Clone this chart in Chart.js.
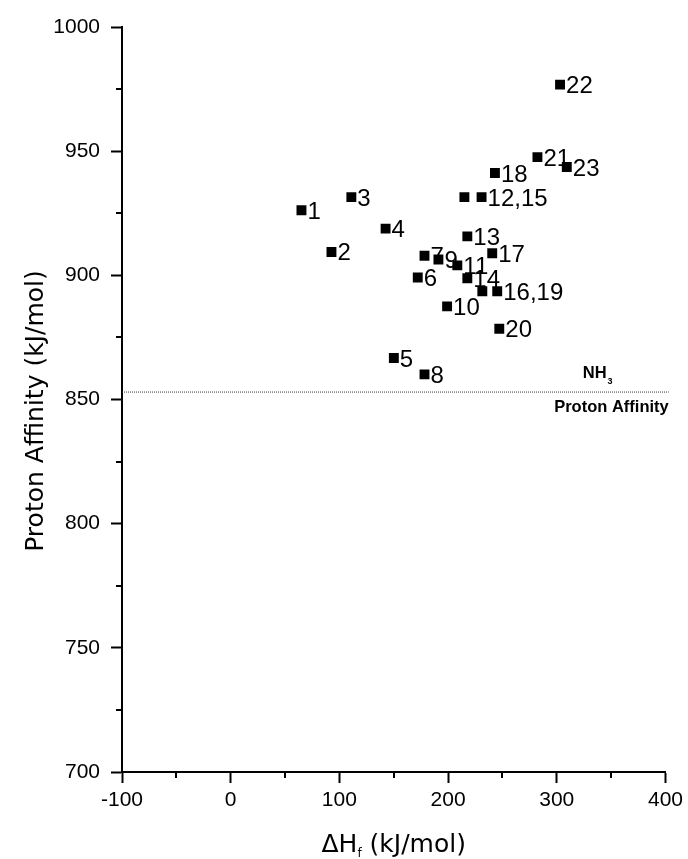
<!DOCTYPE html>
<html><head><meta charset="utf-8">
<script src="https://cdn.jsdelivr.net/npm/chart.js@4.4.0/dist/chart.umd.min.js"></script>
<style>html,body{margin:0;padding:0;background:#fff}canvas{display:block}</style>
</head><body>
<canvas id="c" width="688" height="859"></canvas>
<script>
// ---- data ----
const heatOfFormation = [65.1, 92.7, 111.0, 142.5, 150.1, 172.1, 178.3, 178.3, 191.1, 199.1, 208.5, 215.0, 217.7, 217.7, 230.8, 231.5, 240.6, 243.1, 245.2, 247.1, 282.2, 303.0, 309.2];
const protonAffinity = [926.2, 909.4, 931.5, 918.8, 866.7, 899.1, 907.9, 860.1, 906.4, 887.5, 904.0, 931.5, 915.7, 898.8, 931.5, 893.6, 908.9, 941.2, 893.6, 878.5, 947.6, 976.8, 943.6];
const pointTags = ['1','2','3','4','5','6','7','8','9','10','11','','13','14','12,15','','17','18','16,19','20','21','22','23'];
const nh3ProtonAffinity = 853;
const nh3LineX = [-100, 403];
const xRange = [-100, 400];
const yRange = [700, 1000];
const xMajorStep = 100, xMinorStep = 50;
const yMajorStep = 50, yMinorStep = 25;
const xTitleMain = '\u0394H', xTitleSub = 'f', xTitleRest = ' (kJ/mol)';
const yTitle = 'Proton Affinity (kJ/mol)';
const refLabelTop = 'NH', refLabelSub = '3', refLabelBottom = 'Proton Affinity';

const TICK_FONT = '"Liberation Sans", Arial, sans-serif';
const TITLE_FONT = '"DejaVu Sans", sans-serif';

const points = heatOfFormation.map((x, i) => ({x, y: protonAffinity[i]}));
const refLine = nh3LineX.map(x => ({x, y: nh3ProtonAffinity}));

const isMajor = (v, step) => Math.abs(v / step - Math.round(v / step)) < 1e-6;

const bgPlugin = {
  id: 'bg',
  beforeDraw(chart) {
    const c = chart.ctx; c.save(); c.fillStyle = '#fff';
    c.fillRect(0, 0, chart.width, chart.height); c.restore();
  }
};

const minorTicks = {
  id: 'minorTicks',
  afterDraw(chart) {
    const c = chart.ctx; c.save();
    c.strokeStyle = '#000'; c.lineWidth = 2;
    const xs = chart.scales.x, ys = chart.scales.y;
    xs.ticks.forEach(t => {
      if (isMajor(t.value, xMajorStep)) return;
      const px = Math.round(xs.getPixelForValue(t.value));
      c.beginPath(); c.moveTo(px, xs.top); c.lineTo(px, xs.top + 6); c.stroke();
    });
    ys.ticks.forEach(t => {
      if (isMajor(t.value, yMajorStep)) return;
      const py = Math.round(ys.getPixelForValue(t.value));
      c.beginPath(); c.moveTo(ys.right, py); c.lineTo(ys.right - 6, py); c.stroke();
    });
    c.restore();
  }
};

const pointLabels = {
  id: 'pointLabels',
  afterDatasetsDraw(chart) {
    const meta = chart.getDatasetMeta(0);
    const c = chart.ctx; c.save();
    c.fillStyle = '#000'; c.font = '24px ' + TICK_FONT;
    c.textAlign = 'left'; c.textBaseline = 'alphabetic';
    meta.data.forEach((el, i) => {
      if (pointTags[i]) c.fillText(pointTags[i], el.x + 6, el.y + 8.5);
    });
    c.restore();
  }
};

const annotations = {
  id: 'annotations',
  afterDraw(chart) {
    const c = chart.ctx; const ca = chart.chartArea;
    const xs = chart.scales.x, ys = chart.scales.y;
    c.save(); c.fillStyle = '#000';
    // x title with subscript
    const main = '25px ' + TITLE_FONT, sub = '12px ' + TITLE_FONT;
    c.font = main; const w1 = c.measureText(xTitleMain).width; const w3 = c.measureText(xTitleRest).width;
    c.font = sub; const w2 = c.measureText(xTitleSub).width;
    const total = w1 + w2 + w3;
    let x0 = (ca.left + ca.right) / 2 - total / 2;
    const base = 851.5;
    c.textAlign = 'left'; c.textBaseline = 'alphabetic';
    c.font = main; c.fillText(xTitleMain, x0, base);
    c.font = sub; c.fillText(xTitleSub, x0 + w1, base + 5);
    c.font = main; c.fillText(xTitleRest, x0 + w1 + w2, base);
    // y title
    c.save();
    c.translate(43, 411); c.rotate(-Math.PI / 2);
    c.textAlign = 'center'; c.font = main; c.fillText(yTitle, 0, 0);
    c.restore();
    // NH3 annotation
    const ly = ys.getPixelForValue(nh3ProtonAffinity);
    const rx = xs.getPixelForValue(nh3LineX[1]);
    c.font = 'bold 16.5px ' + TICK_FONT;
    c.textAlign = 'right';
    c.fillText(refLabelBottom, rx, ly + 20);
    c.textAlign = 'left';
    const nhW = c.measureText(refLabelTop).width;
    const nhX = rx - 86;
    c.fillText(refLabelTop, nhX, ly - 14);
    c.font = 'bold 9px ' + TICK_FONT;
    c.fillText(refLabelSub, nhX + nhW + 1, ly - 8);
    c.restore();
  }
};

new Chart(document.getElementById('c'), {
  type: 'scatter',
  data: {
    datasets: [
      {
        data: points,
        pointStyle: 'rect', pointRadius: 7, pointHoverRadius: 7,
        backgroundColor: '#000', borderWidth: 0, order: 1
      },
      {
        type: 'line', data: refLine, showLine: true,
        borderColor: '#333', borderWidth: 1, borderDash: [1, 1],
        pointRadius: 0, fill: false, clip: false, order: 2
      }
    ]
  },
  options: {
    responsive: false, animation: false, devicePixelRatio: 1,
    layout: { padding: { top: 27, right: 21, left: 0, bottom: 0 } },
    plugins: { legend: { display: false }, tooltip: { enabled: false }, title: { display: false } },
    scales: {
      x: {
        type: 'linear', min: xRange[0], max: xRange[1],
        afterFit: s => { s.height = 87; },
        ticks: {
          stepSize: xMinorStep, autoSkip: false, maxRotation: 0, padding: 5,
          color: '#000', font: { family: TICK_FONT, size: 21 },
          callback: v => isMajor(v, xMajorStep) ? String(v) : ''
        },
        grid: {
          drawOnChartArea: false, drawTicks: true, tickLength: 11, tickWidth: 2,
          tickColor: ctx => (ctx.tick && isMajor(ctx.tick.value, xMajorStep)) ? '#000' : 'rgba(0,0,0,0)'
        },
        border: { display: true, color: '#000', width: 2 }
      },
      y: {
        type: 'linear', min: yRange[0], max: yRange[1],
        afterFit: s => { s.width = 122; },
        ticks: {
          stepSize: yMinorStep, autoSkip: false, padding: 11,
          color: '#000', font: { family: TICK_FONT, size: 21 },
          callback: v => isMajor(v, yMajorStep) ? String(v) : ''
        },
        grid: {
          drawOnChartArea: false, drawTicks: true, tickLength: 11, tickWidth: 2,
          tickColor: ctx => (ctx.tick && isMajor(ctx.tick.value, yMajorStep)) ? '#000' : 'rgba(0,0,0,0)'
        },
        border: { display: true, color: '#000', width: 2 }
      }
    }
  },
  plugins: [bgPlugin, minorTicks, pointLabels, annotations]
});
</script>
</body></html>
